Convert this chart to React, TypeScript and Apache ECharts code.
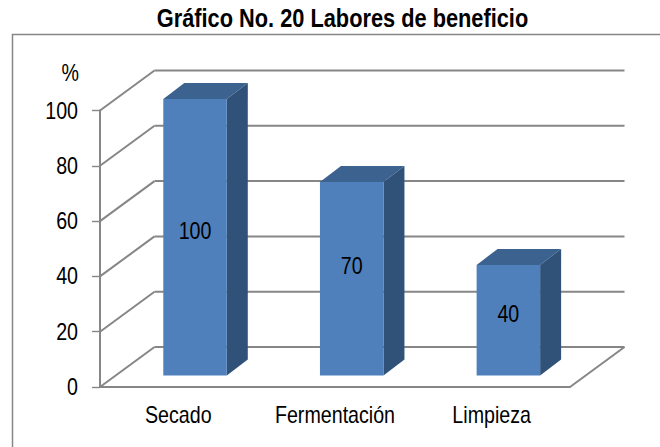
import React, { useEffect, useRef } from "react";
import * as echarts from "echarts";

const titleText = "Gráfico No. 20 Labores de beneficio";
const unitLabel = "%";
const categories = ["Secado", "Fermentación", "Limpieza"];
const values = [100, 70, 40];
const wallTicks = [0, 20, 40, 60, 80, 100];

const FONT = "'Liberation Sans', Arial, sans-serif";
const GRAY = "#868686";
const WALL_DX = 54.5;
const WALL_DY = -40;
const BAR_SHIFT_X = 16.7;
const BAR_SHIFT_Y = -11.5;
const BAR_W = 63.5;
const DEPTH_X = 21;
const DEPTH_Y = -16;
const LABEL_NUDGE = [-5.5, -12.5, -6];
const SQUEEZE = 0.855;

const label = (
  text: string,
  x: number,
  y: number,
  align: string,
  size = 23,
  weight = "normal",
  scaleX = SQUEEZE
) => ({
  type: "text",
  x,
  y,
  scaleX,
  style: {
    text,
    x: 0,
    y: 0,
    align,
    verticalAlign: "middle",
    fontFamily: FONT,
    fontSize: size,
    fontWeight: weight,
    fill: "#000",
  },
});

export default function App() {
  const ref = useRef<HTMLDivElement>(null);
  useEffect(() => {
    document.body.style.margin = "0";
    const chart = echarts.init(ref.current!, undefined, { renderer: "svg" });
    const line = (x1: number, y1: number, x2: number, y2: number, w = 2) => ({
      type: "line",
      shape: { x1, y1, x2, y2 },
      style: { stroke: GRAY, lineWidth: w },
    });
    const poly = (points: number[][], fill: string) => ({
      type: "polygon",
      shape: { points },
      style: { fill, stroke: null },
    });
    chart.setOption({
      animation: false,
      backgroundColor: "#ffffff",
      graphic: [
        {
          type: "polyline",
          shape: { points: [[12.5, 447], [12.5, 34.5], [660, 34.5]] },
          style: { stroke: GRAY, lineWidth: 1.5, fill: "none" },
        },
        label(titleText, 342.5, 18.5, "center", 25, "bold", 0.871),
        label(unitLabel, 79, 73, "right"),
      ],
      grid: { left: 100, top: 110.5, width: 470, height: 276.5 },
      xAxis: {
        type: "category",
        data: categories,
        boundaryGap: true,
        axisLine: { lineStyle: { color: GRAY, width: 2 } },
        axisTick: { alignWithLabel: false, length: 6, lineStyle: { color: GRAY, width: 1.4 } },
        axisLabel: { show: false },
      },
      yAxis: {
        type: "value",
        min: 0,
        max: 100,
        interval: 20,
        splitLine: { show: false },
        axisLine: { show: true, lineStyle: { color: GRAY, width: 2 } },
        axisTick: { show: true, length: 8, lineStyle: { color: GRAY, width: 1.4 } },
        axisLabel: { show: false },
      },
      series: [
        {
          type: "custom",
          name: "walls",
          coordinateSystem: "cartesian2d",
          clip: false,
          z: 1,
          data: wallTicks.map((v) => [0, v]),
          renderItem: (params: any, api: any) => {
            const v = api.value(1);
            const y = api.coord([0, v])[1];
            const cs = params.coordSys;
            const xl = cs.x;
            const xr = cs.x + cs.width;
            const children: any[] = [
              line(xl, y, xl + WALL_DX, y + WALL_DY),
              line(xl + WALL_DX, y + WALL_DY, xr + WALL_DX, y + WALL_DY),
              label(String(v), xl - 22, y + 0.5, "right"),
            ];
            if (v === 0) children.push(line(xr, y, xr + WALL_DX, y + WALL_DY));
            return { type: "group", children };
          },
        },
        {
          type: "custom",
          name: "bars",
          coordinateSystem: "cartesian2d",
          clip: false,
          z: 2,
          data: values.map((v, i) => [i, v]),
          renderItem: (_params: any, api: any) => {
            const i = api.value(0);
            const v = api.value(1);
            const top = api.coord([i, v]);
            const base = api.coord([i, 0]);
            const l = top[0] + BAR_SHIFT_X - BAR_W / 2;
            const r = l + BAR_W;
            const t = top[1] + BAR_SHIFT_Y;
            const b = base[1] + BAR_SHIFT_Y;
            return {
              type: "group",
              children: [
                poly([[l, t], [r, t], [r + DEPTH_X, t + DEPTH_Y], [l + DEPTH_X, t + DEPTH_Y]], "#3C638F"),
                poly([[r, t], [r + DEPTH_X, t + DEPTH_Y], [r + DEPTH_X, b + DEPTH_Y], [r, b]], "#305278"),
                poly([[l, t], [r, t], [r, b], [l, b]], "#4F80BC"),
                label(String(v), (l + r) / 2, (t + b) / 2 + LABEL_NUDGE[i], "center"),
                label(categories[i], top[0], base[1] + 28, "center"),
              ],
            };
          },
        },
      ],
    });
    return () => chart.dispose();
  }, []);
  return <div ref={ref} style={{ width: 660, height: 447 }} />;
}
